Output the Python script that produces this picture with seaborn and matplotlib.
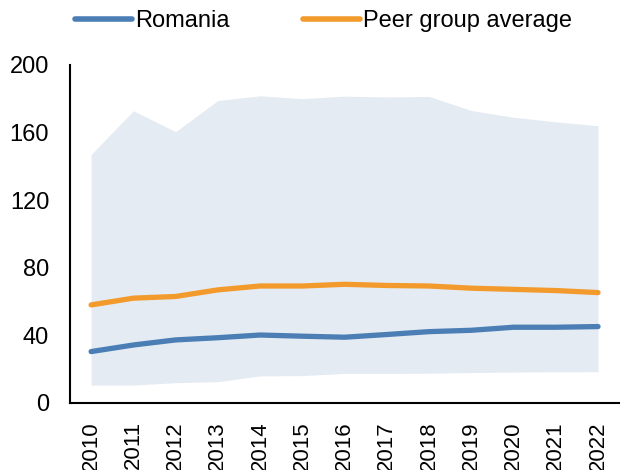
import matplotlib
import matplotlib.pyplot as plt
import seaborn as sns
import numpy as np
import pandas as pd

matplotlib.use('Agg')

years = list(range(2010, 2023))
romania = [30.4, 34.3, 37.3, 38.6, 40.2, 39.5, 38.9, 40.5, 42.2, 43.0, 44.8, 44.8, 45.2]
peer_avg = [58.0, 62.0, 63.0, 66.9, 69.2, 69.2, 70.2, 69.5, 69.2, 67.9, 67.2, 66.5, 65.3]
band_low = [10.6, 10.6, 12.0, 12.6, 16.0, 16.2, 17.5, 17.5, 17.6, 18.0, 18.3, 18.4, 18.5]
band_high = [147.0, 172.8, 160.5, 178.9, 181.7, 180.0, 181.5, 181.0, 181.3, 173.0, 169.0, 166.3, 164.0]

BLUE = '#4a7eb4'
ORANGE = '#f39a2c'
BAND = '#e4ebf3'

sns.set_style('white', {'text.color': 'black', 'xtick.color': 'black',
                        'ytick.color': 'black', 'axes.labelcolor': 'black'})
plt.rcParams['font.family'] = ['Liberation Sans', 'DejaVu Sans']

df = pd.DataFrame({'year': years, 'Romania': romania, 'Peer group average': peer_avg})
long_df = df.melt(id_vars='year', var_name='series', value_name='value')

fig = plt.figure(figsize=(6.21, 4.70), dpi=100)
ax = fig.add_axes([0.1127, 0.1426, 0.8843, 0.7194])

# shaded range of the peer group
ax.fill_between(years, band_low, band_high, color=BAND, linewidth=0, zorder=1)
sns.lineplot(data=long_df, x='year', y='value', hue='series',
             palette={'Romania': BLUE, 'Peer group average': ORANGE},
             linewidth=3.8, ax=ax, zorder=3, solid_capstyle='round')

ax.set_xlim(2009.5, 2022.5)
ax.set_ylim(0, 200)
ax.set_yticks(np.arange(0, 201, 40))
ax.set_xticks(years)
ax.set_xticklabels([str(y) for y in years], rotation=90)
ax.set_xticks(np.arange(2009.5, 2023, 1), minor=True)
ax.tick_params(axis='x', which='major', length=0, labelsize=16, pad=13)
ax.tick_params(axis='x', which='minor', length=6, width=1.5, color='black', direction='out')
ax.tick_params(axis='y', length=0, labelsize=17, pad=15)
ax.set_xlabel('')
ax.set_ylabel('')

for side in ['top', 'right']:
    ax.spines[side].set_visible(False)
for side in ['left', 'bottom']:
    ax.spines[side].set_color('black')
    ax.spines[side].set_linewidth(1.5)

leg = ax.legend(loc='center', bbox_to_anchor=(0.521, 0.955), bbox_transform=fig.transFigure,
                ncol=2, frameon=False, fontsize=17, handlelength=2.4, handletextpad=0.13,
                columnspacing=3.1)
for line in leg.get_lines():
    line.set_linewidth(4)

fig.savefig('out.png', dpi=100)
